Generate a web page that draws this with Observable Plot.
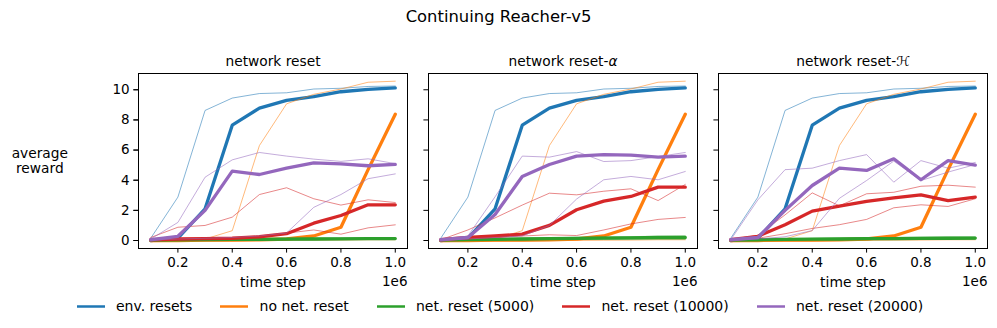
<!DOCTYPE html>
<html><head><meta charset="utf-8">
<script src="https://cdn.jsdelivr.net/npm/d3@7"></script>
<script src="https://cdn.jsdelivr.net/npm/@observablehq/plot@0.6"></script>
<style>
html,body{margin:0;padding:0;background:#fff;}
#fig{position:relative;width:997px;height:328px;overflow:hidden;font-family:"DejaVu Sans",sans-serif;color:#000;background:#fff;}
#title{position:absolute;left:0;top:7px;width:997px;text-align:center;font-size:16.4px;line-height:20px;}
#chart{position:absolute;left:0;top:40px;}
#legend{position:absolute;left:0;top:296px;width:994px;padding-left:3px;display:flex;justify-content:center;font-size:14px;line-height:20px;}
.item{display:flex;align-items:flex-start;margin:0 14px;white-space:nowrap;}
.item svg{margin-right:11.2px;}
</style>
</head><body>
<div id="fig">
  <div id="title">Continuing Reacher-v5</div>
  <div id="chart"></div>
  <div id="legend"></div>
</div>
<script>
const steps = [0.1, 0.2, 0.3, 0.4, 0.5, 0.6, 0.7, 0.8, 0.9, 1.0];
const panels = ["network reset", "network reset-α", "network reset-ℋ"];
const seriesNames = ["env. resets", "no net. reset", "net. reset (5000)", "net. reset (10000)", "net. reset (20000)"];
const seriesColors = ["#1f77b4", "#ff7f0e", "#2ca02c", "#d62728", "#9467bd"];
const yTicks = [0, 2, 4, 6, 8, 10];
const xTicks = [0.2, 0.4, 0.6, 0.8, 1.0];

// env. resets (same in every panel)
const envMedian = [0.0, 0.15, 2.1, 7.65, 8.78, 9.3, 9.55, 9.87, 10.03, 10.13];
const envSeed = [0.15, 2.88, 8.63, 9.45, 9.75, 9.8, 10.05, 10.1, 10.22, 10.25];
// no net. reset (same in every panel)
const noResetMedian = [0.0, 0.0, 0.02, 0.03, 0.05, 0.1, 0.3, 0.88, 4.7, 8.38];
const noResetSeedA = [-0.05, 0.0, 0.1, 0.65, 6.3, 9.07, 9.7, 10.05, 10.5, 10.57];
const noResetSeedB = [-0.08, -0.05, -0.05, -0.03, 0.0, 0.0, 0.02, 0.03, 0.05, 0.05];
// net. reset (5000)
const g1Med = [0.03, 0.05, 0.06, 0.07, 0.08, 0.09, 0.1, 0.11, 0.12, 0.13];
const g1A = [0.05, 0.08, 0.1, 0.12, 0.14, 0.15, 0.16, 0.18, 0.19, 0.2];
const g1B = [0.0, 0.02, 0.03, 0.04, 0.05, 0.05, 0.06, 0.06, 0.07, 0.07];
const g2Med = [0.03, 0.06, 0.08, 0.1, 0.12, 0.14, 0.16, 0.18, 0.2, 0.2];
const g2A = [0.05, 0.1, 0.13, 0.16, 0.19, 0.21, 0.24, 0.26, 0.28, 0.3];
const g2B = [0.0, 0.02, 0.03, 0.05, 0.06, 0.07, 0.08, 0.09, 0.1, 0.1];
const g3Med = [0.03, 0.05, 0.07, 0.09, 0.1, 0.12, 0.13, 0.14, 0.15, 0.16];
const g3A = [0.05, 0.08, 0.11, 0.14, 0.16, 0.18, 0.2, 0.22, 0.23, 0.24];
const g3B = [0.0, 0.02, 0.03, 0.04, 0.05, 0.06, 0.07, 0.07, 0.08, 0.08];
// net. reset (10000)
const r1Med = [0.05, 0.1, 0.13, 0.15, 0.25, 0.45, 1.15, 1.66, 2.37, 2.37];
const r1A = [0.2, 0.88, 1.0, 1.55, 3.05, 3.5, 2.77, 2.35, 2.7, 2.52];
const r1B = [0.02, 0.05, 0.08, 0.12, 0.2, 0.49, 0.7, 0.42, 0.84, 1.04];
const r2Med = [0.05, 0.2, 0.3, 0.42, 1.0, 2.04, 2.61, 2.92, 3.54, 3.54];
const r2A = [0.05, 0.7, 1.5, 2.35, 3.14, 3.03, 3.27, 3.43, 2.65, 3.72];
const r2B = [0.02, 0.1, 0.2, 0.3, 0.38, 0.33, 0.7, 1.1, 1.4, 1.53];
const r3Med = [0.05, 0.28, 1.04, 1.95, 2.28, 2.59, 2.83, 3.03, 2.65, 2.88];
const r3A = [0.05, 0.35, 1.7, 3.16, 2.3, 3.1, 3.2, 3.6, 3.67, 3.54];
const r3B = [0.0, 0.15, 0.45, 0.8, 1.05, 1.4, 2.17, 2.37, 2.26, 2.77];
// net. reset (20000)
const p1Med = [0.05, 0.28, 2.0, 4.6, 4.38, 4.8, 5.15, 5.09, 4.96, 5.05];
const p1A = [0.1, 1.2, 4.2, 5.35, 5.84, 5.6, 5.4, 5.25, 5.42, 5.1];
const p1B = [0.02, 0.1, 0.15, 0.2, 0.3, 0.5, 2.2, 3.05, 4.1, 4.42];
const p2Med = [0.05, 0.2, 1.73, 4.25, 5.04, 5.6, 5.7, 5.66, 5.53, 5.6];
const p2A = [0.0, 0.3, 2.9, 5.6, 5.53, 5.9, 5.24, 5.3, 5.57, 5.84];
const p2B = [0.02, 0.1, 0.2, 0.3, 1.0, 2.75, 4.03, 4.25, 4.03, 4.58];
const p3Med = [0.05, 0.2, 2.0, 3.65, 4.8, 4.65, 5.42, 4.03, 5.3, 5.0];
const p3A = [0.05, 2.7, 4.7, 4.8, 5.3, 5.7, 3.87, 5.3, 4.8, 5.18];
const p3B = [0.02, 0.1, 0.25, 0.66, 2.8, 3.98, 5.27, 3.98, 4.54, 5.04];

const curves = [
  {s: 0, panels: [0, 1, 2], median: envMedian, seeds: [envSeed]},
  {s: 1, panels: [0, 1, 2], median: noResetMedian, seeds: [noResetSeedA, noResetSeedB]},
  {s: 2, panels: [0], median: g1Med, seeds: [g1A, g1B]},
  {s: 2, panels: [1], median: g2Med, seeds: [g2A, g2B]},
  {s: 2, panels: [2], median: g3Med, seeds: [g3A, g3B]},
  {s: 3, panels: [0], median: r1Med, seeds: [r1A, r1B]},
  {s: 3, panels: [1], median: r2Med, seeds: [r2A, r2B]},
  {s: 3, panels: [2], median: r3Med, seeds: [r3A, r3B]},
  {s: 4, panels: [0], median: p1Med, seeds: [p1A, p1B]},
  {s: 4, panels: [1], median: p2Med, seeds: [p2A, p2B]},
  {s: 4, panels: [2], median: p3Med, seeds: [p3A, p3B]}
];

const thinRows = seriesNames.map(() => []);
const thickRows = seriesNames.map(() => []);
curves.forEach((c, ci) => {
  c.panels.forEach(pi => {
    c.median.forEach((v, i) => thickRows[c.s].push({panel: panels[pi], key: `${ci}-${pi}-m`, step: steps[i], value: v}));
    c.seeds.forEach((seed, k) => seed.forEach((v, i) =>
      thinRows[c.s].push({panel: panels[pi], key: `${ci}-${pi}-${k}`, step: steps[i], value: v})));
  });
});

const panelRows = panels.map(p => ({panel: p}));

const lineMarks = [];
seriesNames.forEach((name, s) => {
  lineMarks.push(Plot.line(thinRows[s], {x: "step", y: "value", z: "key", fx: "panel", stroke: seriesColors[s], strokeWidth: 1, strokeOpacity: 0.55}));
  lineMarks.push(Plot.line(thickRows[s], {x: "step", y: "value", z: "key", fx: "panel", stroke: seriesColors[s], strokeWidth: 3.3}));
});

const chart = Plot.plot({
  width: 997,
  height: 252,
  marginLeft: 137,
  marginRight: 9.5,
  marginTop: 33,
  marginBottom: 44,
  style: {fontFamily: "'DejaVu Sans', sans-serif", fontSize: "13.5px", background: "white", color: "black", overflow: "visible"},
  x: {domain: [0.055, 1.045], axis: null},
  y: {domain: [-0.53, 11.08], axis: null},
  fx: {domain: panels, paddingInner: 21 / 290.5, paddingOuter: 0, axis: null},
  marks: [
    ...lineMarks,
    Plot.frame({stroke: "black", strokeWidth: 1}),
    Plot.axisY({ticks: yTicks, tickSize: 4.6, tickPadding: 4.2, fontSize: 13.5, label: null, anchor: "left"}),
    Plot.axisY({ticks: yTicks, tickSize: 4.6, tickFormat: () => "", label: null, anchor: "left", facetAnchor: null}),
    Plot.axisX({ticks: xTicks, tickFormat: d3.format(".1f"), tickSize: 4.6, tickPadding: 4.2, fontSize: 13.5, label: null, anchor: "bottom"}),
    Plot.text(panelRows, {fx: "panel", text: "panel", frameAnchor: "top", lineAnchor: "bottom", dy: -7.5, fontSize: 13.75}),
    Plot.text(panelRows, {fx: "panel", text: () => "time step", frameAnchor: "bottom", lineAnchor: "bottom", dy: 38, fontSize: 13.9}),
    Plot.text(panelRows, {fx: "panel", text: () => "1e6", frameAnchor: "bottom-right", textAnchor: "end", lineAnchor: "bottom", dy: 37.5, fontSize: 13.5}),
    Plot.text([{panel: panels[0]}], {fx: "panel", text: () => "average\nreward", frameAnchor: "top-left", textAnchor: "middle", lineAnchor: "top", dx: -98.7, dy: 73.9, lineHeight: 1.09, fontSize: 13.75})
  ]
});

// italic alpha in the second facet title
chart.querySelectorAll("text").forEach(t => {
  if (t.textContent === "network reset-α") {
    t.textContent = "network reset-";
    const ts = document.createElementNS("http://www.w3.org/2000/svg", "tspan");
    ts.setAttribute("font-style", "italic");
    ts.textContent = "α";
    t.appendChild(ts);
  }
});

document.getElementById("chart").appendChild(chart);

const legend = document.getElementById("legend");
seriesNames.forEach((name, s) => {
  const item = document.createElement("div");
  item.className = "item";
  item.innerHTML = `<svg width="28" height="20"><line x1="0" x2="28" y1="10.5" y2="10.5" stroke="${seriesColors[s]}" stroke-width="2.5"/></svg><span>${name}</span>`;
  legend.appendChild(item);
});
</script>
</body></html>
